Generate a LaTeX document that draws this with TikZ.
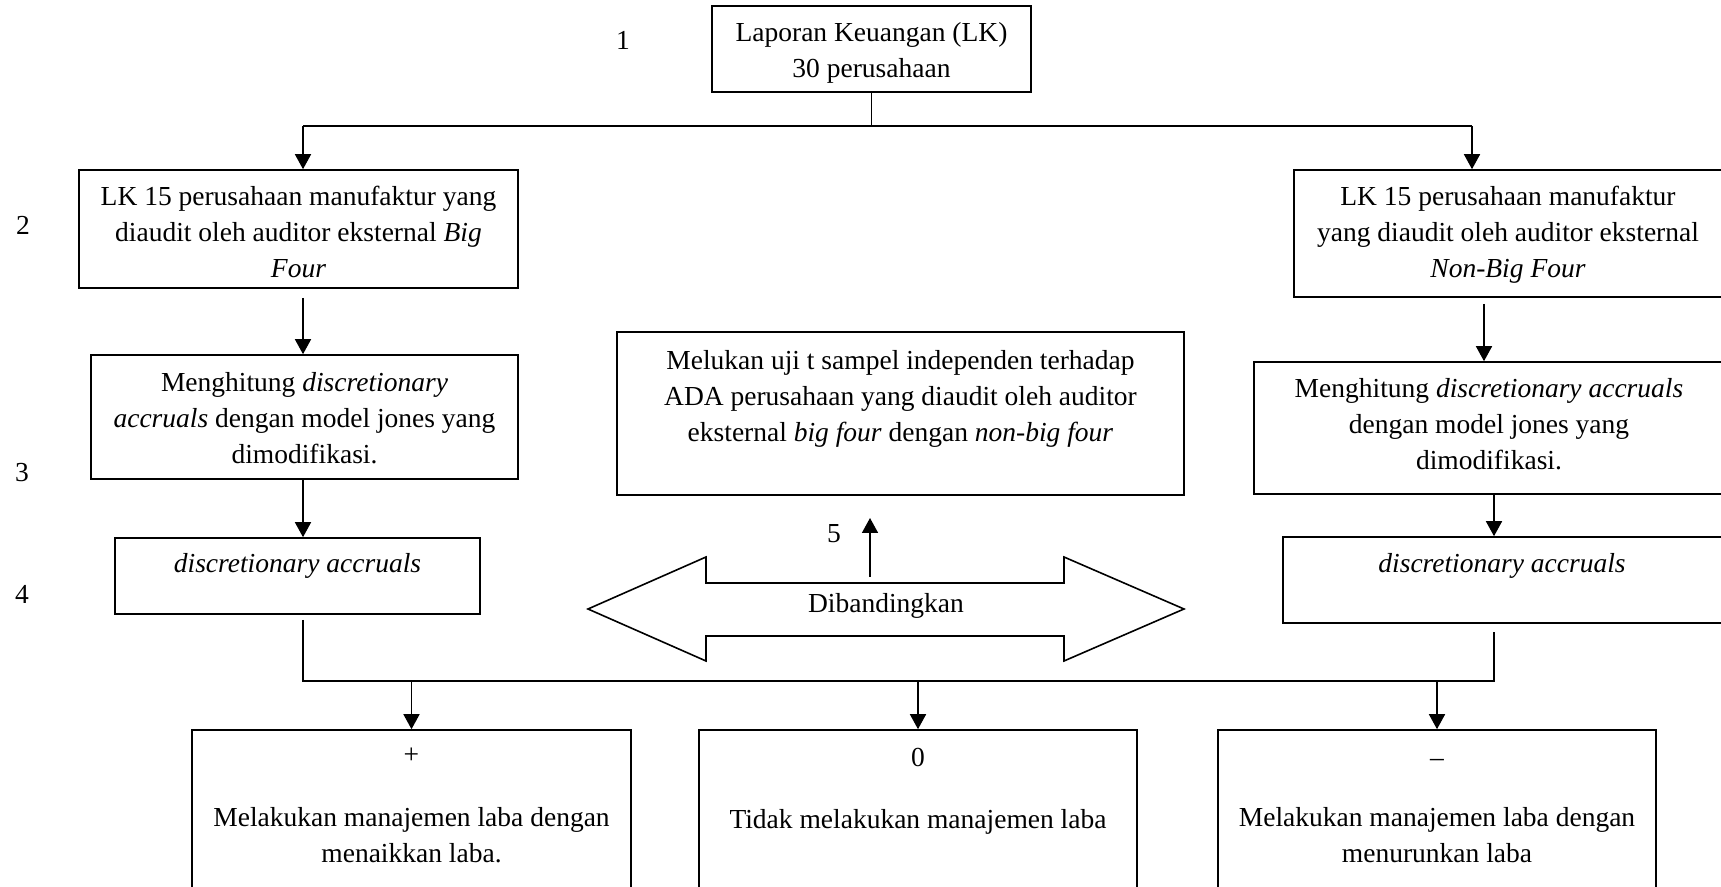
\documentclass[tikz,border=0pt]{standalone}
\usepackage{fontspec}
\setmainfont{Liberation Serif}
\usetikzlibrary{arrows.meta,fit}
\begin{document}
\begin{tikzpicture}[x=0.5pt,y=-0.5pt,
  box/.style={draw,line width=0.8pt,inner sep=0pt},
  txt/.style={font=\fontsize{13.75pt}{18pt}\selectfont, align=center, inner sep=0pt, anchor=base},
  lbl/.style={font=\fontsize{13.75pt}{18pt}\selectfont, inner sep=0pt, anchor=base},
  conn/.style={line width=0.8pt},
  arr/.style={line width=0.8pt,-{Triangle[length=7.5pt,width=8pt]}}]
\useasboundingbox (0,0) rectangle (1721,887);
\clip (0,0) rectangle (1721,887);
% boxes (multi-line texts are placed at the baseline of their last line)
\node[box,fit={(712,6)(1031,92)}] (top) {};
\node[txt] (ttop) at (871.5,78) {Laporan Keuangan (LK)\\30 perusahaan};
\node[box,fit={(79,170)(518,288)}] (bL2) {};
\node[txt] (tL2) at (298.5,278) {LK 15 perusahaan manufaktur yang\\diaudit oleh auditor eksternal \textit{Big}\\\textit{Four}};
\node[box,fit={(1294,170)(1725,297)}] (bR2) {};
\node[txt] (tR2) at (1508,278) {LK 15 perusahaan manufaktur\\yang diaudit oleh auditor eksternal\\\textit{Non-Big Four}};
\node[box,fit={(91,355)(518,479)}] (bL3) {};
\node[txt] (tL3) at (304.5,464) {Menghitung \textit{discretionary}\\\textit{accruals} dengan model jones yang\\dimodifikasi.};
\node[box,fit={(1254,362)(1725,494)}] (bR3) {};
\node[txt] (tR3) at (1489,470) {Menghitung \textit{discretionary accruals}\\dengan model jones yang\\dimodifikasi.};
\node[box,fit={(617,332)(1184,495)}] (mid) {};
\node[txt] (tmid) at (900.5,442) {Melukan uji t sampel independen terhadap\\ADA perusahaan yang diaudit oleh auditor\\eksternal \textit{big four} dengan \textit{non-big four}};
\node[box,fit={(115,538)(480,614)}] (bL4) {};
\node[txt] (tL4) at (297.5,573) {\textit{discretionary accruals}};
\node[box,fit={(1283,537)(1725,623)}] (bR4) {};
\node[txt] (tR4) at (1502,573) {\textit{discretionary accruals}};
\node[box,fit={(192,730)(631,900)}] (oA) {};
\node[txt] (sA) at (411.5,763) {+};
\node[txt] (dA) at (411.5,863) {Melakukan manajemen laba dengan\\menaikkan laba.};
\node[box,fit={(699,730)(1137,900)}] (oB) {};
\node[txt] (sB) at (918,767) {0};
\node[txt] (dB) at (918,828) {Tidak melakukan manajemen laba};
\node[box,fit={(1218,730)(1656,900)}] (oC) {};
\node[txt] (sC) at (1437,767) {–};
\node[txt] (dC) at (1437,863) {Melakukan manajemen laba dengan\\menurunkan laba};
% labels
\node[lbl] (n1) at (623,50) {1};
\node[lbl] (n2) at (23,235) {2};
\node[lbl] (n3) at (22,482) {3};
\node[lbl] (n4) at (22,604) {4};
\node[lbl] (n5) at (834,543) {5};
% double arrow
\draw[conn] (588,609) -- (706,557) -- (706,583) -- (1064,583) -- (1064,557) -- (1184,609)
  -- (1064,661) -- (1064,636) -- (706,636) -- (706,661) -- cycle;
\node[txt] (cmp) at (886,613) {Dibandingkan};
\coordinate (u0) at (870,577);
\coordinate (u1) at (870,518);
\draw[arr] (u0) -- (u1);
% connectors
\coordinate (sL) at (303,126);
\coordinate (sR) at (1472,126);
\coordinate (cL) at (303,0);
\coordinate (cR1) at (1484,0);
\coordinate (cR2) at (1494,0);
\coordinate (bus) at (0,681);
\draw[conn] (top.south) -- (top.south |- sL);
\draw[conn] (sL) -- (sR);
\draw[arr] (sL) -- (sL |- bL2.north);
\draw[arr] (sR) -- (sR |- bR2.north);
\draw[arr,shorten <=4.5pt] (cL |- bL2.south) -- (cL |- bL3.north);
\draw[arr] (cL |- bL3.south) -- (cL |- bL4.north);
\draw[arr,shorten <=3pt] (cR1 |- bR2.south) -- (cR1 |- bR3.north);
\draw[arr] (cR2 |- bR3.south) -- (cR2 |- bR4.north);
\draw[conn,shorten <=2.5pt,shorten >=4pt] (cL |- bL4.south) -- (cL |- bus) -- (cR2 |- bus) -- (cR2 |- bR4.south);
\draw[arr] (oA.north |- bus) -- (oA.north);
\draw[arr] (oB.north |- bus) -- (oB.north);
\draw[arr] (oC.north |- bus) -- (oC.north);
\end{tikzpicture}
\end{document}
